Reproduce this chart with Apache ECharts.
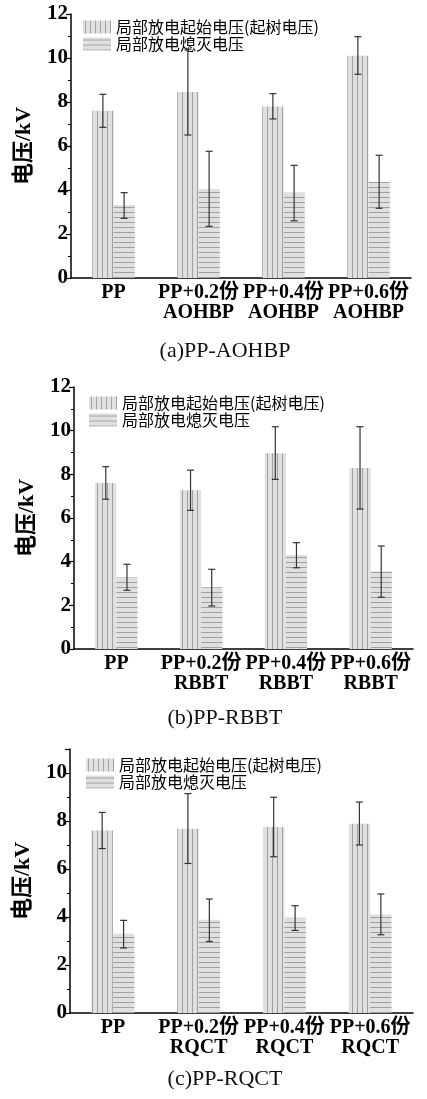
<!DOCTYPE html>
<html>
<head>
<meta charset="utf-8">
<script src="https://cdn.jsdelivr.net/npm/echarts@6/dist/echarts.min.js"></script>
<style>
  html, body { margin: 0; padding: 0; background: #fff; }
  #main { width: 427px; height: 1099px; }
</style>
</head>
<body>
<div id="main"></div>
<script>
// series names
var nameStart = '局部放电起始电压(起树电压)';
var nameExt = '局部放电熄灭电压';

// (a) PP-AOHBP
var catsA = ['PP', 'PP+0.2份\nAOHBP', 'PP+0.4份\nAOHBP', 'PP+0.6份\nAOHBP'];
var startA = [7.6, 8.45, 7.8, 10.1];
var startALo = [6.85, 6.5, 7.23, 9.26];
var startAHi = [8.35, 10.4, 8.38, 10.97];
var extA = [3.32, 4.05, 3.88, 4.36];
var extALo = [2.71, 2.35, 2.6, 3.17];
var extAHi = [3.88, 5.76, 5.12, 5.58];

// (b) PP-RBBT
var catsB = ['PP', 'PP+0.2份\nRBBT', 'PP+0.4份\nRBBT', 'PP+0.6份\nRBBT'];
var startB = [7.6, 7.27, 8.96, 8.29];
var startBLo = [6.86, 6.35, 7.77, 6.41];
var startBHi = [8.35, 8.19, 10.18, 10.18];
var extB = [3.28, 2.83, 4.31, 3.56];
var extBLo = [2.69, 1.97, 3.72, 2.37];
var extBHi = [3.88, 3.65, 4.87, 4.72];

// (c) PP-RQCT
var catsC = ['PP', 'PP+0.2份\nRQCT', 'PP+0.4份\nRQCT', 'PP+0.6份\nRQCT'];
var startC = [7.6, 7.68, 7.75, 7.89];
var startCLo = [6.85, 6.23, 6.51, 7.0];
var startCHi = [8.36, 9.14, 8.99, 8.79];
var extC = [3.3, 3.89, 3.97, 4.1];
var extCLo = [2.71, 2.98, 3.44, 3.26];
var extCHi = [3.86, 4.75, 4.47, 4.96];

var panelTitles = ['(a)PP-AOHBP', '(b)PP-RBBT', '(c)PP-RQCT'];

var serifBold = '"Liberation Serif", "Times New Roman", "Noto Sans CJK SC", serif';
var cjk = '"Noto Sans CJK SC", sans-serif';

// hatch patterns for the bars
function makePattern(vertical) {
  var c = document.createElement('canvas');
  c.width = 5; c.height = 5;
  var ctx = c.getContext('2d');
  ctx.fillStyle = '#e0e0e0';
  ctx.fillRect(0, 0, 5, 5);
  ctx.fillStyle = '#a0a0a0';
  if (vertical) ctx.fillRect(2, 0, 1, 5);
  else ctx.fillRect(0, 2, 5, 1);
  return { image: c, repeat: 'repeat' };
}
var patV = makePattern(true);
var patH = makePattern(false);

function errData(lo, hi) {
  return lo.map(function (v, i) { return [i, v, hi[i]]; });
}

function errSeries(idx, lo, hi, side) {
  return {
    type: 'custom',
    xAxisIndex: idx,
    yAxisIndex: idx,
    data: errData(lo, hi),
    encode: { x: 0, y: [1, 2] },
    z: 10,
    silent: true,
    renderItem: function (params, api) {
      var band = api.size([1, 0])[0];
      var p1 = api.coord([api.value(0), api.value(1)]);
      var p2 = api.coord([api.value(0), api.value(2)]);
      var x = p1[0] + side * band * 0.125;
      var w = 3.5;
      var st = { stroke: '#333', lineWidth: 1.2 };
      return {
        type: 'group',
        children: [
          { type: 'line', shape: { x1: x, y1: p1[1], x2: x, y2: p2[1] }, style: st },
          { type: 'line', shape: { x1: x - w, y1: p1[1], x2: x + w, y2: p1[1] }, style: st },
          { type: 'line', shape: { x1: x - w, y1: p2[1], x2: x + w, y2: p2[1] }, style: st }
        ]
      };
    }
  };
}

function barSeries(idx, name, data, pat) {
  return {
    type: 'bar',
    name: name,
    xAxisIndex: idx,
    yAxisIndex: idx,
    data: data,
    barGap: '0%',
    barCategoryGap: '50%',
    itemStyle: { color: pat },
    emphasis: { disabled: true }
  };
}

var grids = [
  { left: 71, right: 16, top: 14, height: 264 },
  { left: 74, right: 14, top: 387, height: 262 },
  { left: 70, right: 14, top: 749, height: 264 }
];
var yMax = [12, 12, 11];
var legendPos = [[83, 19], [89, 395], [86, 757]];
var titleTop = [335, 702, 1063];
var allCats = [catsA, catsB, catsC];

function xAxisFor(i) {
  return {
    type: 'category',
    gridIndex: i,
    data: allCats[i],
    axisTick: { show: false },
    axisLine: { lineStyle: { color: '#000', width: 1.5 } },
    axisLabel: {
      color: '#000', fontFamily: serifBold, fontWeight: 'bold',
      fontSize: 20, lineHeight: 20, margin: 5, interval: 0
    }
  };
}

function yAxisFor(i) {
  return {
    type: 'value',
    gridIndex: i,
    min: 0,
    max: yMax[i],
    interval: 2,
    name: '电压/kV',
    nameLocation: 'middle',
    nameGap: 36,
    nameTextStyle: { color: '#000', fontFamily: serifBold, fontWeight: 'bold', fontSize: 22 },
    axisLine: { show: true, lineStyle: { color: '#000', width: 1.5 } },
    axisTick: { show: true, length: 5, lineStyle: { color: '#000', width: 1.2 } },
    minorTick: { show: true, splitNumber: 2, length: 3, lineStyle: { color: '#000', width: 1 } },
    splitLine: { show: false },
    axisLabel: {
      color: '#000', fontFamily: serifBold, fontWeight: 'bold', fontSize: 21,
      margin: 3, showMaxLabel: yMax[i] % 2 === 0
    }
  };
}

var chart = echarts.init(document.getElementById('main'));
chart.setOption({
  animation: false,
  backgroundColor: '#fff',
  title: panelTitles.map(function (t, i) {
    return {
      text: t, left: 220, top: titleTop[i], textAlign: 'center',
      textStyle: { fontFamily: '"Liberation Serif", serif', fontWeight: 'normal', fontSize: 22, color: '#111' }
    };
  }),
  legend: legendPos.map(function (p) {
    return {
      orient: 'vertical', left: p[0], top: p[1],
      itemWidth: 28, itemHeight: 13, itemGap: 1, padding: 0,
      icon: 'rect',
      data: [nameStart, nameExt],
      selectedMode: false,
      textStyle: { fontFamily: cjk, fontSize: 16, color: '#000', lineHeight: 16 }
    };
  }),
  grid: grids,
  xAxis: [0, 1, 2].map(xAxisFor),
  yAxis: [0, 1, 2].map(yAxisFor),
  series: [
    barSeries(0, nameStart, startA, patV),
    barSeries(0, nameExt, extA, patH),
    errSeries(0, startALo, startAHi, -1),
    errSeries(0, extALo, extAHi, 1),
    barSeries(1, nameStart, startB, patV),
    barSeries(1, nameExt, extB, patH),
    errSeries(1, startBLo, startBHi, -1),
    errSeries(1, extBLo, extBHi, 1),
    barSeries(2, nameStart, startC, patV),
    barSeries(2, nameExt, extC, patH),
    errSeries(2, startCLo, startCHi, -1),
    errSeries(2, extCLo, extCHi, 1)
  ]
});
</script>
</body>
</html>
